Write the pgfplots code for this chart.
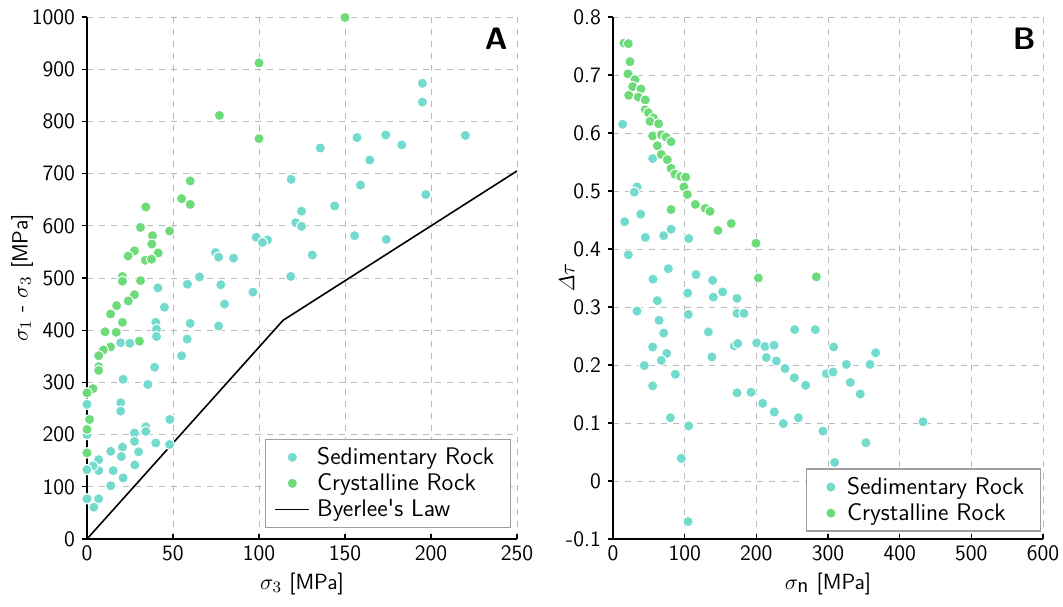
\documentclass[border=0pt]{standalone}
\usepackage{pgfplots}
\pgfplotsset{compat=1.18}
\renewcommand{\familydefault}{\sfdefault}
\definecolor{sed}{RGB}{114,219,205}
\definecolor{cry}{RGB}{110,219,122}
\newcommand{\fs}{\fontsize{11}{13}\selectfont}
\pgfplotsset{
 myax/.style={
  scale only axis, width=215pt, height=261pt,
  axis x line=bottom, axis y line=left,
  axis line style={-, line width=0.8pt},
  grid=major, grid style={dashed, gray!55, line width=0.45pt},
  tick style={black, line width=0.6pt}, major tick length=2.5pt,
  xtick align=inside, ytick align=outside,
  font=\fs, clip=false,
  /pgf/number format/assume math mode=true,
  /pgf/number format/1000 sep={},
  legend style={font=\fontsize{12}{13}\selectfont, draw=gray!75, line width=0.6pt,
    inner xsep=4.5pt, inner ysep=2.5pt, nodes={inner xsep=3.5pt, inner ysep=1.5pt}},
  legend cell align=left,
 },
 sedm/.style={only marks, mark=*, mark size=2.6pt, mark options={fill=sed, draw=white, line width=0.5pt}},
 crym/.style={only marks, mark=*, mark size=2.6pt, mark options={fill=cry, draw=white, line width=0.5pt}},
}
\begin{document}
\begin{tikzpicture}
\useasboundingbox (-43.5pt,-33.5pt) rectangle (488pt,269.5pt);
\begin{axis}[myax, at={(0,0)}, anchor=south west,
  xmin=0, xmax=250, ymin=0, ymax=1000,
  xtick={0,50,...,250}, ytick={0,100,...,1000},
  xlabel={$\sigma_3$ [MPa]}, ylabel={$\sigma_1$ - $\sigma_3$ [MPa]},
  x label style={at={(axis description cs:0.5,-0.086)}, anchor=center},
  y label style={at={(axis description cs:-0.151,0.5)}, anchor=center},
  legend style={at={(0.986,0.021)}, anchor=south east},
]
\addplot[black, line width=0.8pt, forget plot] coordinates {(0,0) (114,419) (250,705)};
\addplot[sedm] coordinates {
(98.4,578) (105,573) (102,568) (74.7,549) (76.5,540) (85.2,538) (65.4,502) (58.4,488) (77.8,487) (96.5,473) (41.2,481)
(45,444) (80,450) (40,415) (40.4,402) (40.4,388) (60,413) (76.5,408) (58.2,383) (19.6,376) (24.9,375) (55,351) (39.3,329)
(21,306) (35.4,296) (0,258) (19.6,261) (19.6,245) (48.2,229) (34.2,215) (34.2,206) (27.6,203) (27.6,187) (48,181) (40,184)
(20.6,176) (13.8,168) (30,167) (20,158) (27.8,142) (15.2,131) (6.8,131) (6.8,152) (3.5,140) (0,133) (21,117) (13.8,102)
(0,77) (6.8,77) (4,61) (0,200)
(195,873) (195,837) (157,769) (173.7,774) (183,755) (220,773) (135.6,749) (164.4,726) (118.7,689) (159,678) (197,660)
(124.7,628) (144,638) (121.4,606) (124.7,599) (155.6,581) (174,574) (131,544) (118.5,503)
};
\addlegendentry{Sedimentary Rock}
\addplot[crym] coordinates {
(100,912) (77,811.5) (100,767) (60,686) (55,652) (60,641) (34.2,636) (31.1,597) (48,590) (38.1,581) (37.7,565) (41.4,548)
(27.6,552) (23.9,542) (33.9,534) (37.5,536) (20.6,503) (20.6,494) (31.1,495) (27.6,468) (24,456) (17.2,447) (13.7,431)
(20.6,415) (10.5,397) (17,396) (30.5,379) (13.7,368) (9.5,362) (6.8,351) (6.8,330) (6.8,323) (3.5,288) (0,280) (1.5,229)
(0,210) (0,165) (150,999)
};
\addlegendentry{Crystalline Rock}
\addlegendimage{black, line width=0.8pt}
\addlegendentry{Byerlee\textquotesingle s Law}
\node[anchor=north east, inner sep=0pt, font=\bfseries\fontsize{15.5}{18}\selectfont] at (rel axis cs:0.979,0.979) {A};
\end{axis}
\begin{axis}[myax, at={(263pt,0)}, anchor=south west,
  xmin=0, xmax=600, ymin=-0.1, ymax=0.8,
  xtick={0,100,...,600}, ytick={-0.1,0,0.1,0.2,0.3,0.4,0.5,0.6,0.7,0.8},
  yticklabel style={/pgf/number format/fixed, /pgf/number format/precision=1},
  xlabel={$\sigma_{\textsf{n}}$ [MPa]}, ylabel={$\mathit{\Delta}\tau$},
  x label style={at={(axis description cs:0.5,-0.086)}, anchor=center},
  y label style={at={(axis description cs:-0.107,0.5)}, anchor=center},
  legend style={at={(0.995,0.014)}, anchor=south east},
  legend image code/.code={\path[draw=none, fill=none] (-7.6pt,0pt) -- (4.6pt,0pt); \draw[#1] plot coordinates {(0pt,0pt)};},
]
\addplot[sedm] coordinates {
(13.5,0.615) (55.3,0.556) (33.5,0.507) (29.8,0.498) (16.3,0.447) (38.6,0.460) (45.1,0.420) (70.7,0.423) (81,0.434)
(105.6,0.418) (21.4,0.390) (77.2,0.366) (55.8,0.348) (115.8,0.356) (139,0.346) (153,0.326) (104.2,0.324) (140,0.317)
(173,0.315) (61.9,0.311) (33.5,0.293) (105,0.287) (173,0.289) (182.8,0.289) (64.2,0.277) (133,0.257) (70.7,0.255)
(55.3,0.231) (74.9,0.220) (67.4,0.208) (43.7,0.199) (87,0.184) (55.3,0.164) (138,0.214) (169.3,0.233) (174,0.237)
(200.5,0.238) (212,0.232) (224.7,0.234) (214,0.213) (228,0.207) (240,0.194) (253.5,0.261) (253,0.178) (173,0.152)
(192.6,0.153) (208.8,0.134) (225,0.119) (237.7,0.099) (258.6,0.109) (80,0.109) (105.6,0.095) (95.3,0.039) (104.7,-0.070)
(282.3,0.261) (307.9,0.231) (366.5,0.221) (325.6,0.201) (358.6,0.201) (297.7,0.185) (307,0.188) (268.8,0.165)
(331.2,0.170) (345,0.150) (432.6,0.102) (293,0.086) (353,0.066) (309.3,0.032)
};
\addlegendentry{Sedimentary Rock}
\addplot[crym] coordinates {
(15.3,0.755) (21.4,0.754) (23.7,0.723) (20.9,0.702) (30.7,0.692) (27.4,0.680) (39,0.676) (21.9,0.665) (35.3,0.662)
(45.1,0.657) (45,0.640) (49.3,0.635) (56.3,0.626) (51.6,0.620) (63.7,0.616) (55.3,0.595) (67.4,0.597) (74,0.593)
(81,0.585) (61.9,0.578) (67.4,0.563) (75.8,0.554) (81,0.539) (86.5,0.529) (94.4,0.525) (101.4,0.524) (99,0.507)
(103.7,0.494) (114.9,0.477) (128.8,0.470) (135.3,0.465) (81,0.468) (146.5,0.432) (165,0.444) (199.5,0.410)
(202.8,0.350) (283.7,0.352)
};
\addlegendentry{Crystalline Rock}
\node[anchor=north east, inner sep=0pt, font=\bfseries\fontsize{15.5}{18}\selectfont] at (rel axis cs:0.984,0.979) {B};
\end{axis}
\end{tikzpicture}
\end{document}
